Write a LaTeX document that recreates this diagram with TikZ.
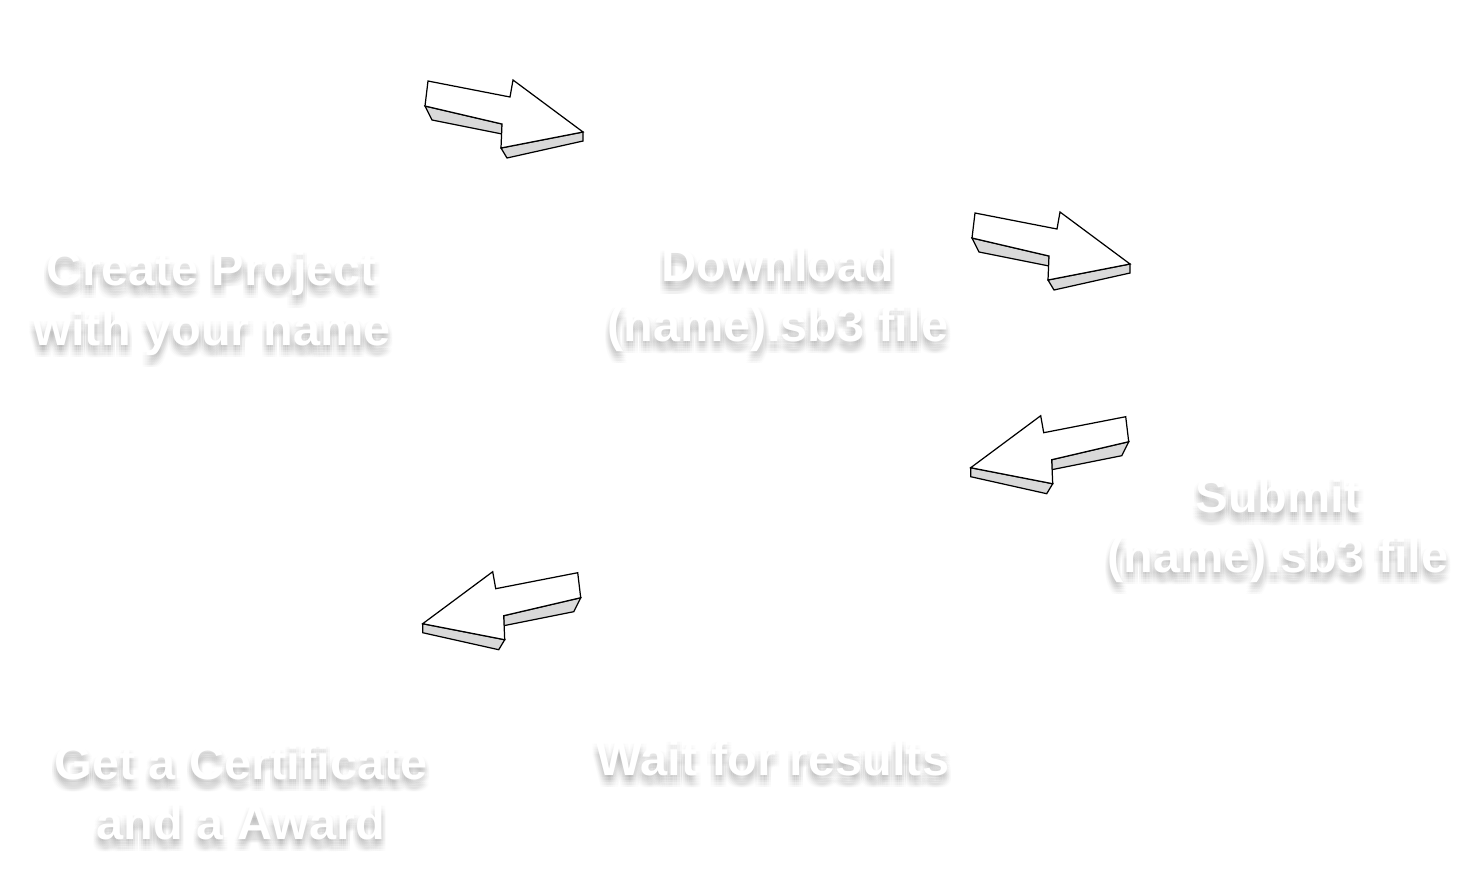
\documentclass[tikz,border=0pt]{standalone}
\usepackage{fontspec}
\setmainfont{Liberation Sans}
\usepackage{tikz}

\tikzset{
	labeltext/.style={text=white, align=center, font=\fontsize{27.7}{34}\selectfont\bfseries},
	arrowtop/.style={draw, fill=white, line width=0.7pt},
	arrowside/.style={draw, fill=gray!30, line width=0.7pt}
}

% white label with a soft grey shadow
\newcommand\shadowlabel[3]{%
	\foreach \dx in {-2.4,-1.2,0,1.2,2.4}
		\foreach \dy in {-7,-5.6,-4.2,-2.8,-1.4}
			\node[labeltext, text=black, text opacity=0.011, xshift=\dx pt, yshift=\dy pt] at (#2) {#3};
	\node[labeltext] (#1) at (#2) {#3};
}

% block arrow pointing right, drawn at the place of the first one
\newcommand\blockarrow{%
	\filldraw[arrowside] (425,106) -- (502,124) -- (502,134) -- (432,120) -- cycle;
	\filldraw[arrowside] (501,148) -- (583,132) -- (583,141) -- (507,158) -- cycle;
	\filldraw[arrowtop] (428,81) -- (510,97) -- (513,80) -- (583,132) -- (501,148) -- (502,124) -- (425,106) -- cycle;
}

\begin{document}
\begin{tikzpicture}[x=0.02cm, y=-0.02cm]
	\fill[white] (0,0) rectangle (1476,873);
	\useasboundingbox (0,0) rectangle (1476,873);
	% Labels
	\shadowlabel{create}{212,303}{Create Project\\with your name}
	\shadowlabel{download}{778,299}{Download\\(name).sb3 file}
	\shadowlabel{submit}{1278,530}{Submit\\(name).sb3 file}
	\shadowlabel{wait}{773,758}{Wait for results}
	\shadowlabel{certificate}{241,792}{Get a Certificate\\and a Award}
	% Arrows
	\blockarrow
	\begin{scope}[shift={(547,132)}]
		\blockarrow
	\end{scope}
	\begin{scope}[shift={(1553.7,335.7)}, xscale=-1]
		\blockarrow
	\end{scope}
	\begin{scope}[shift={(1005.7,491.7)}, xscale=-1]
		\blockarrow
	\end{scope}
\end{tikzpicture}
\end{document}
